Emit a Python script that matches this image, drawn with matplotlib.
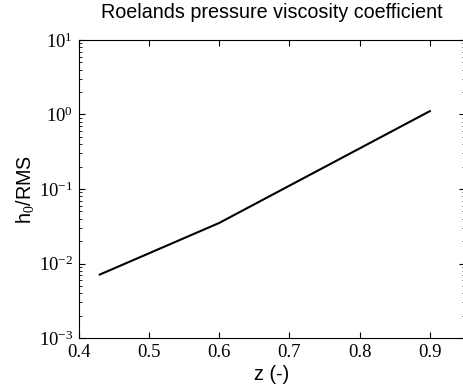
import matplotlib
matplotlib.use("Agg")
import matplotlib.pyplot as plt
import numpy as np

# values (z vs h0/RMS)
z = [0.43, 0.6, 0.9]
h0_rms = [0.0071, 0.035, 1.11]

plt.rcParams["mathtext.fontset"] = "custom"
plt.rcParams["mathtext.rm"] = "Liberation Serif"
plt.rcParams["mathtext.it"] = "Liberation Serif:italic"

fig = plt.figure(figsize=(4.63, 3.85), dpi=100)
ax = fig.add_axes([78.7 / 463, 1 - 338 / 385, (465 - 78.7) / 463, (338 - 40) / 385])

ax.semilogy(z, h0_rms, color="black", lw=1.5)

ax.set_xlim(0.4, 0.95)
ax.set_ylim(1e-3, 1e1)
ax.set_xticks([0.4, 0.5, 0.6, 0.7, 0.8, 0.9])
ax.set_xticklabels(["0.4", "0.5", "0.6", "0.7", "0.8", "0.9"])

ax.tick_params(which="both", direction="in", top=True, right=True)
ax.tick_params(which="major", length=4, width=0.8)
ax.tick_params(which="minor", length=2, width=0.6)
ax.tick_params(axis="x", which="minor", bottom=False, top=False)
for lab in ax.get_xticklabels() + ax.get_yticklabels():
    lab.set_fontfamily("Liberation Serif")
    lab.set_fontsize(13.5)
ax.tick_params(axis="x", pad=4)
ax.tick_params(axis="y", pad=4)

ax.set_title("Roelands pressure viscosity coefficient", fontsize=14.2,
             fontfamily="Liberation Sans", pad=16)
ax.set_xlabel("z (-)", fontsize=14.2, fontfamily="Liberation Sans", labelpad=3)
ax.set_ylabel(r"h$_0$/RMS", fontsize=14.2, fontfamily="Liberation Sans", labelpad=2)

fig.savefig("out.png", dpi=100)
